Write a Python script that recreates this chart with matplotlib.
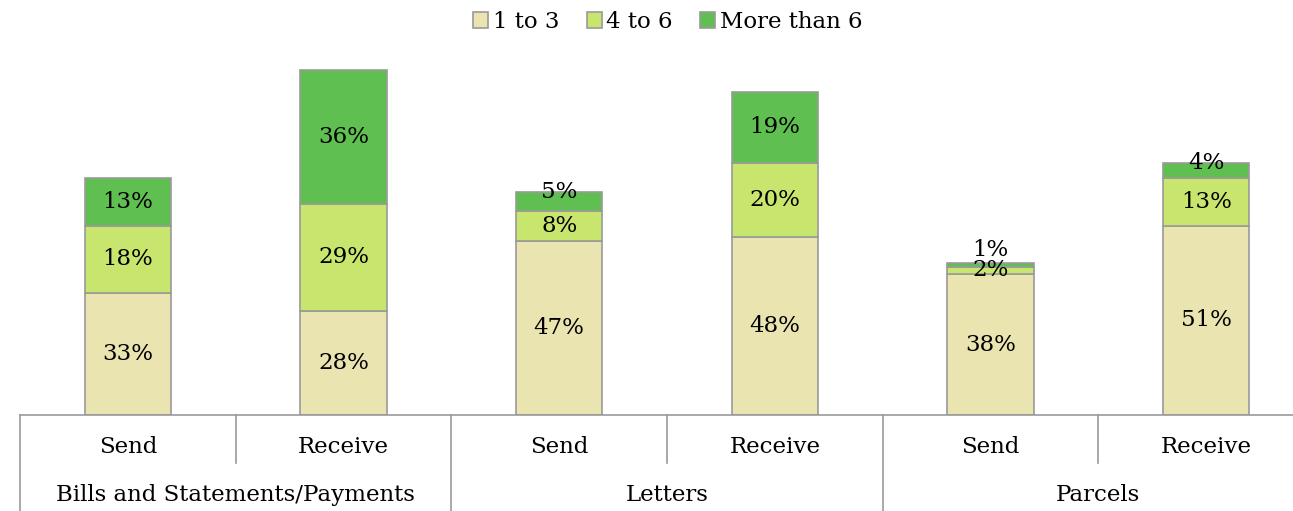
import matplotlib
matplotlib.use("Agg")
import matplotlib.pyplot as plt
import numpy as np

groups = ["Bills and Statements/Payments", "Letters", "Parcels"]
subcats = ["Send", "Receive", "Send", "Receive", "Send", "Receive"]
series_names = ["1 to 3", "4 to 6", "More than 6"]
s1 = [33, 28, 47, 48, 38, 51]
s2 = [18, 29, 8, 20, 2, 13]
s3 = [13, 36, 5, 19, 1, 4]
colors = ["#EAE4B0", "#C8E66E", "#5FBF50"]

plt.rcParams['font.family'] = ['DejaVu Serif']

W, H = 1293, 511
fig = plt.figure(figsize=(W / 100, H / 100), dpi=100)
ax_left, ax_right = 20, 1314
ax_bottom, ax_top = 415, 44
ax = fig.add_axes([ax_left / W, (H - ax_bottom) / H, (ax_right - ax_left) / W, (ax_bottom - ax_top) / H])

n = len(subcats)
x = np.arange(n)
bottom = np.zeros(n)
handles = []
for vals, col, name in zip([s1, s2, s3], colors, series_names):
    vals = np.array(vals, dtype=float)
    b = ax.bar(x, vals, width=0.4, bottom=bottom, color=col, edgecolor="#9a9a9a", linewidth=1.2, label=name)
    handles.append(b)
    bottom = bottom + vals

FS = 16.5
# labels
bottom = np.zeros(n)
series = [s1, s2, s3]
for si, vals in enumerate(series):
    for i, v in enumerate(vals):
        top = bottom[i] + v
        is_top = si == len(series) - 1
        if is_top and v <= 2:
            ax.text(x[i], top + 0.6, f"{v}%", ha="center", va="bottom", fontsize=FS)
        elif is_top and v <= 5:
            ax.text(x[i], top, f"{v}%", ha="center", va="center", fontsize=FS)
        else:
            ax.text(x[i], bottom[i] + v / 2, f"{v}%", ha="center", va="center", fontsize=FS)
    bottom = bottom + np.array(vals)

ax.set_xlim(-0.5, n - 0.5)
ax.set_ylim(0, 100)
for s in ["top", "right", "left"]:
    ax.spines[s].set_visible(False)
ax.spines["bottom"].set_color("#9a9a9a")
ax.spines["bottom"].set_linewidth(1.2)
ax.set_xticks([])
ax.set_yticks([])

# category axis (multi-level)
px = (ax_bottom - ax_top) / 100.0  # px per data unit
def ydata(pix):
    return (ax_bottom - pix) / px

for i, lab in enumerate(subcats):
    ax.text(x[i], ydata(447), lab, ha="center", va="center", fontsize=FS, clip_on=False)
for gi, g in enumerate(groups):
    ax.text(2 * gi + 0.5, ydata(495), g, ha="center", va="center", fontsize=FS, clip_on=False)
for k in range(n + 1):
    xb = k - 0.5
    if k % 2 == 0:
        ax.plot([xb, xb], [0, ydata(515)], color="#9a9a9a", lw=1.2, clip_on=False)
    else:
        ax.plot([xb, xb], [0, ydata(463)], color="#9a9a9a", lw=1.2, clip_on=False)

leg = fig.legend(handles=handles, labels=series_names, loc="center", bbox_to_anchor=(668 / W, 1 - 22 / H),
                 ncol=3, frameon=False, fontsize=FS, handlelength=0.65, handleheight=0.65,
                 handletextpad=0.2, columnspacing=1.2)

fig.savefig("out.png", dpi=100)
